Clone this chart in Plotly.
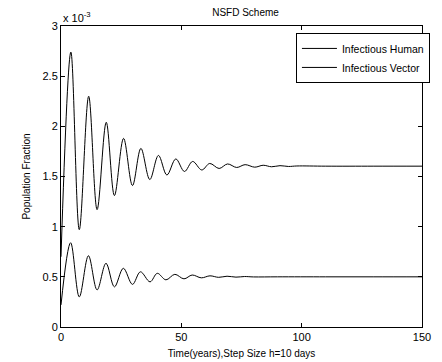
import plotly.graph_objects as go

# Time (years) and values (x 10^-3) read at extrema of each curve
t_human = [0, 4.1, 7.6, 11.5, 15.0, 18.8, 22.2, 26.0, 29.7, 33.2, 36.9, 40.5, 44.0,
           47.7, 51.3, 54.7, 58.5, 61.8, 65.7, 69.2, 73.0, 76.5, 80.5, 84.0, 87.5,
           91.0, 94.5, 98.0, 110.0, 130.0, 150.0]
human = [0.70, 2.74, 0.97, 2.30, 1.17, 2.04, 1.31, 1.88, 1.41, 1.78, 1.47, 1.71, 1.515,
         1.675, 1.55, 1.65, 1.565, 1.63, 1.58, 1.625, 1.59, 1.618, 1.593, 1.612, 1.597,
         1.608, 1.600, 1.605, 1.603, 1.603, 1.603]

t_vector = [0, 4.0, 7.6, 11.4, 15.0, 18.7, 22.2, 25.9, 29.7, 33.0, 37.0, 40.0, 43.6,
            47.3, 51.1, 54.5, 58.3, 61.9, 65.5, 69.0, 72.7, 76.3, 80.0, 90.0, 110.0,
            130.0, 150.0]
vector = [0.22, 0.84, 0.30, 0.71, 0.37, 0.635, 0.40, 0.585, 0.425, 0.55, 0.45, 0.535, 0.47,
          0.525, 0.48, 0.518, 0.49, 0.51, 0.495, 0.506, 0.497, 0.503, 0.499, 0.500, 0.500,
          0.500, 0.500]

x_ticks = [0, 50, 100, 150]
y_ticks = [0, 0.5, 1, 1.5, 2, 2.5, 3]
y_tick_labels = ["0", "0.5", "1", "1.5", "2", "2.5", "3"]

font = "Liberation Sans, Arial, sans-serif"

fig = go.Figure()
fig.add_trace(go.Scatter(x=t_human, y=human, mode="lines", name="Infectious Human",
                         line=dict(color="black", width=1, shape="spline", smoothing=1.0)))
fig.add_trace(go.Scatter(x=t_vector, y=vector, mode="lines", name="Infectious Vector",
                         line=dict(color="black", width=1, shape="spline", smoothing=1.0)))

axis_common = dict(showgrid=False, zeroline=False, showline=True, linecolor="black",
                   linewidth=1, mirror="ticks", ticks="inside", ticklen=4,
                   tickcolor="black", tickwidth=1, automargin=False,
                   tickfont=dict(family=font, size=11, color="black"))

fig.update_layout(
    width=442, height=362,
    margin=dict(l=61, r=12, t=26, b=35),
    paper_bgcolor="white", plot_bgcolor="white",
    font=dict(family=font, size=11, color="black"),
    title=dict(text="NSFD Scheme", x=(61 + 430) / 2 / 442, xanchor="center",
               y=1 - 12 / 362, yanchor="middle",
               font=dict(family=font, size=10, color="black")),
    xaxis=dict(range=[0, 150], tickvals=x_ticks, **axis_common,
               title=dict(text="Time(years),Step Size h=10 days", standoff=7,
                          font=dict(family=font, size=10, color="black"))),
    yaxis=dict(range=[0, 3], tickvals=y_ticks, ticktext=y_tick_labels, **axis_common,
               title=dict(text="Population Fraction", standoff=10,
                          font=dict(family=font, size=10, color="black"))),
    legend=dict(x=1.022, y=0.977, xanchor="right", yanchor="top",
                bgcolor="white", bordercolor="black", borderwidth=1,
                font=dict(family=font, size=10.5, color="black"),
                tracegroupgap=0, itemwidth=35),
    showlegend=True,
    annotations=[dict(text="x 10<sup>-3</sup>", xref="paper", yref="paper",
                      x=0, y=1, xanchor="left", yanchor="bottom", showarrow=False,
                      font=dict(family=font, size=11, color="black"), yshift=0)],
)

fig.write_html("out.html")
